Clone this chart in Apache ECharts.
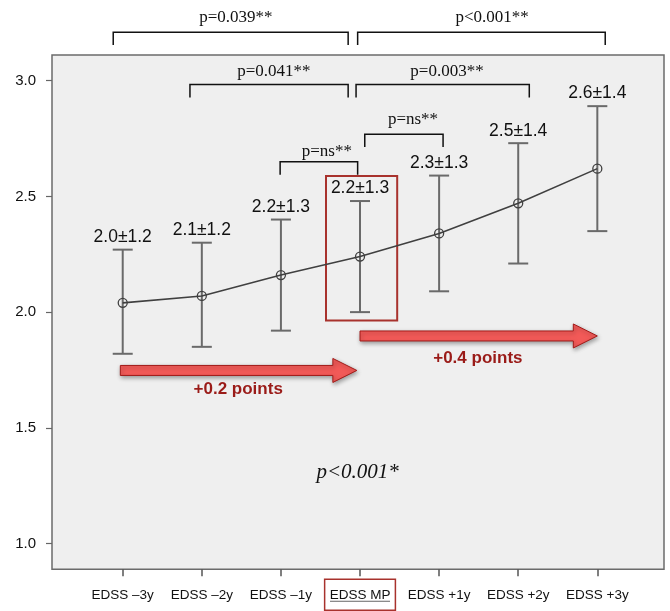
<!DOCTYPE html>
<html><head><meta charset="utf-8">
<script src="https://cdn.jsdelivr.net/npm/echarts@6/dist/echarts.min.js"></script>
<style>html,body{margin:0;padding:0;background:#fff}#c{width:670px;height:611px}</style>
</head><body><div id="c"></div>
<script>
// ---- data ----
const categories = ['EDSS \u20133y', 'EDSS \u20132y', 'EDSS \u20131y', 'EDSS MP', 'EDSS +1y', 'EDSS +2y', 'EDSS +3y'];
const means      = [2.04, 2.07, 2.16, 2.24, 2.34, 2.47, 2.62];
const lowerBars  = [1.82, 1.85, 1.92, 2.00, 2.09, 2.21, 2.35];
const upperBars  = [2.27, 2.30, 2.40, 2.48, 2.59, 2.73, 2.89];
const meanLabels = ['2.0\u00b11.2', '2.1\u00b11.2', '2.2\u00b11.3', '2.2\u00b11.3', '2.3\u00b11.3', '2.5\u00b11.4', '2.6\u00b11.4'];
const yTicks     = [1.0, 1.5, 2.0, 2.5, 3.0];
const highlightIndex = 3;

// ---- annotations (data-space) ----
const brackets = [
  {x1: -0.12, x2: 2.85, y: 3.209, leg: 3.154, tx: 1.43, ty: 3.274, text: 'p=0.039**'},
  {x1: 2.97,  x2: 6.10, y: 3.209, leg: 3.154, tx: 4.67, ty: 3.274, text: 'p<0.001**'},
  {x1: 0.85,  x2: 2.85, y: 2.983, leg: 2.927, tx: 1.91, ty: 3.038, text: 'p=0.041**'},
  {x1: 2.95,  x2: 5.14, y: 2.983, leg: 2.927, tx: 4.10, ty: 3.038, text: 'p=0.003**'},
  {x1: 3.06,  x2: 4.05, y: 2.769, leg: 2.714, tx: 3.67, ty: 2.833, text: 'p=ns**'},
  {x1: 1.99,  x2: 2.97, y: 2.650, leg: 2.594, tx: 2.58, ty: 2.692, text: 'p=ns**'}
];
const arrows = [
  {x1: -0.03, x2: 2.96, y: 1.748, tx: 1.46, ty: 1.667, text: '+0.2 points'},
  {x1: 3.00,  x2: 6.00, y: 1.897, tx: 4.49, ty: 1.800, text: '+0.4 points'}
];
const highlightBox = {x1: 2.57, x2: 3.47, y1: 2.588, y2: 1.964};
const overallP = {x: 2.97, y: 1.308, text: 'p<0.001*'};

const X_MIN = -0.894, X_MAX = 6.843, Y_MIN = 0.889, Y_MAX = 3.111;
const SANS = '"Liberation Sans", Arial, Helvetica, sans-serif';
const SERIF = '"Liberation Serif", "Times New Roman", serif';
const DARKRED = '#a8322d';

const chart = echarts.init(document.getElementById('c'), null, {renderer: 'canvas'});

const labelRich = {
  n:  {fontSize: 13.5, color: '#111', fontFamily: SANS, padding: [9, 5, 8, 5]},
  mp: {fontSize: 13.5, color: '#111', fontFamily: SANS, padding: [9, 5, 8, 5], borderColor: DARKRED, borderWidth: 1.5}
};

chart.setOption({
  animation: false,
  backgroundColor: '#ffffff',
  grid: {left: 52, right: 6, top: 55, bottom: 36, show: true, backgroundColor: '#efefef', borderColor: '#6b6b6b', borderWidth: 1.5},
  xAxis: {
    type: 'value', min: X_MIN, max: X_MAX,
    axisLine: {show: false, onZero: false},
    splitLine: {show: false},
    axisTick: {show: true, length: 7, lineStyle: {color: '#555', width: 1.5}, customValues: categories.map((c, i) => i)},
    axisLabel: {
      margin: 10,
      customValues: categories.map((c, i) => i),
      formatter: v => {
        const i = Math.round(v);
        return (i === highlightIndex ? '{mp|' : '{n|') + categories[i] + '}';
      },
      rich: labelRich
    }
  },
  yAxis: {
    type: 'value', min: Y_MIN, max: Y_MAX,
    axisLine: {show: false, onZero: false},
    splitLine: {show: false},
    axisTick: {show: true, length: 6, lineStyle: {color: '#666', width: 1.2}, customValues: yTicks},
    axisLabel: {margin: 16, customValues: yTicks, color: '#111', fontSize: 15, fontFamily: SANS, formatter: v => v.toFixed(1)}
  },
  series: [
    { // highlight box + underline + overall p + arrows
      type: 'custom', z: 1, clip: false,
      data: [[highlightBox.x1, highlightBox.y1]],
      renderItem: (params, api) => {
        const a = api.coord([highlightBox.x1, highlightBox.y1]);
        const b = api.coord([highlightBox.x2, highlightBox.y2]);
        const children = [
          {type: 'rect', shape: {x: a[0], y: a[1], width: b[0] - a[0], height: b[1] - a[1]},
           style: {fill: 'none', stroke: DARKRED, lineWidth: 2}}
        ];
        arrows.forEach(ar => {
          const p1 = api.coord([ar.x1, ar.y]);
          const p2 = api.coord([ar.x2, ar.y]);
          const sh = 5, hh = 12, hl = 24, y = p1[1];
          children.push({type: 'polygon', shape: {points: [
            [p1[0], y - sh], [p2[0] - hl, y - sh], [p2[0] - hl, y - hh], [p2[0], y],
            [p2[0] - hl, y + hh], [p2[0] - hl, y + sh], [p1[0], y + sh]
          ]}, style: {fill: '#f25a58', stroke: '#a11a18', lineWidth: 1, shadowBlur: 4, shadowOffsetX: 1, shadowOffsetY: 2, shadowColor: 'rgba(0,0,0,0.35)'}});
          const t = api.coord([ar.tx, ar.ty]);
          children.push({type: 'text', x: t[0], y: t[1], style: {text: ar.text, align: 'center', verticalAlign: 'middle', font: 'bold 17px ' + SANS, fill: '#9a1b18'}});
        });
        const pp = api.coord([overallP.x, overallP.y]);
        children.push({type: 'text', x: pp[0], y: pp[1], style: {text: overallP.text, align: 'center', verticalAlign: 'middle', font: 'italic 21px ' + SERIF, fill: '#111'}});
        const u = api.coord([highlightIndex, Y_MIN]);
        children.push({type: 'line', shape: {x1: u[0] - 30, y1: u[1] + 32, x2: u[0] + 30, y2: u[1] + 32}, style: {stroke: '#666', lineWidth: 1}});
        return {type: 'group', children};
      }
    },
    { // brackets
      type: 'custom', z: 2, clip: false,
      data: brackets.map(b => [b.x1, b.y]),
      renderItem: (params, api) => {
        const b = brackets[params.dataIndex];
        const p1 = api.coord([b.x1, b.y]);
        const p2 = api.coord([b.x2, b.y]);
        const lg = api.coord([b.x1, b.leg]);
        const t = api.coord([b.tx, b.ty]);
        return {type: 'group', children: [
          {type: 'polyline', shape: {points: [[p1[0], lg[1]], [p1[0], p1[1]], [p2[0], p2[1]], [p2[0], lg[1]]]},
           style: {fill: 'none', stroke: '#111', lineWidth: 1.5}},
          {type: 'text', x: t[0], y: t[1], style: {text: b.text, align: 'center', verticalAlign: 'middle', font: '17px ' + SERIF, fill: '#111'}}
        ]};
      }
    },
    { // error bars + labels
      type: 'custom', z: 3, clip: false,
      data: categories.map((c, i) => [i, upperBars[i], lowerBars[i]]),
      encode: {x: 0, y: [1, 2]},
      renderItem: (params, api) => {
        const i = params.dataIndex;
        const top = api.coord([i, upperBars[i]]);
        const bot = api.coord([i, lowerBars[i]]);
        const w = 10;
        const st = {stroke: '#6a6a6a', lineWidth: 2};
        return {type: 'group', children: [
          {type: 'line', shape: {x1: top[0], y1: top[1], x2: bot[0], y2: bot[1]}, style: st},
          {type: 'line', shape: {x1: top[0] - w, y1: top[1], x2: top[0] + w, y2: top[1]}, style: st},
          {type: 'line', shape: {x1: bot[0] - w, y1: bot[1], x2: bot[0] + w, y2: bot[1]}, style: st},
          {type: 'text', x: top[0], y: top[1] - 12.5, style: {text: meanLabels[i], align: 'center', verticalAlign: 'middle', font: '17.5px ' + SANS, fill: '#111'}}
        ]};
      }
    },
    {
      type: 'line', z: 4,
      data: means.map((m, i) => [i, m]),
      symbol: 'circle', symbolSize: 9,
      lineStyle: {color: '#404040', width: 1.6},
      itemStyle: {color: 'rgba(0,0,0,0)', borderColor: '#404040', borderWidth: 1.3}
    }
  ]
});
</script>
</body></html>
